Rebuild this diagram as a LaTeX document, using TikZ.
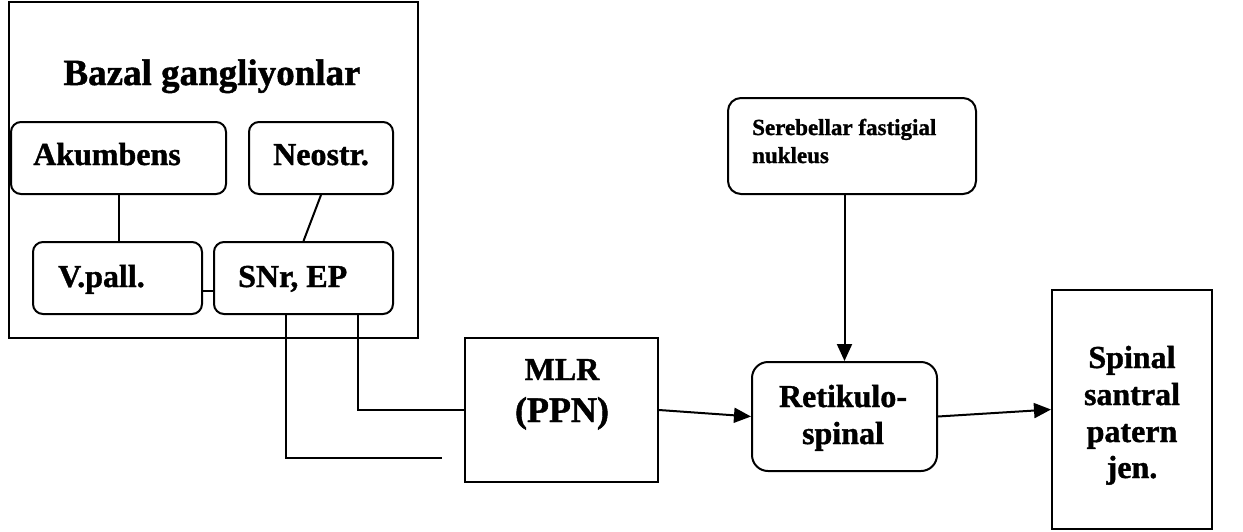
\documentclass[tikz,border=0pt]{standalone}
\usepackage{fontspec}
\setmainfont{Liberation Serif}[BoldFeatures={FakeBold=1.2}]
\usetikzlibrary{arrows.meta}
\begin{document}
\begin{tikzpicture}[x=1pt,y=-1pt,
  ln/.style={line width=2pt},
  sq/.style={draw,ln,rectangle,inner sep=0pt},
  rbox/.style={draw,ln,rectangle,rounded corners=10pt,inner sep=0pt},
  txt/.style={inner sep=0pt,font=\bfseries\fontsize{32}{37}\selectfont},
  arr/.style={ln,-{Triangle[length=17pt,width=15pt]}}]
\useasboundingbox (0,0) rectangle (1243,531);
% boxes
\node[sq,minimum width=409pt,minimum height=336pt] (baz) at (213.5,170) {};
\node[txt,anchor=base,font=\bfseries\fontsize{37}{40}\selectfont] (bazT) at (212,85) {Bazal gangliyonlar};
\node[rbox,minimum width=215pt,minimum height=72pt] (akb) at (118.5,158) {};
\node[txt,anchor=base west] (akbT) at (33,165) {Akumbens};
\node[rbox,minimum width=144pt,minimum height=72pt] (neo) at (321,158) {};
\node[txt,anchor=base west] (neoT) at (273,165) {Neostr.};
\node[rbox,minimum width=169pt,minimum height=72pt] (vp) at (117.5,278) {};
\node[txt,anchor=base west] (vpT) at (58,287) {V.pall.};
\node[rbox,minimum width=179pt,minimum height=72pt] (snr) at (303.5,278) {};
\node[txt,anchor=base west] (snrT) at (238,287) {SNr, EP};
\node[sq,minimum width=193pt,minimum height=144pt] (mlr) at (561.5,410) {};
\node[txt,anchor=base] (mlrT) at (562,380) {MLR};
\node[txt,anchor=base,font=\bfseries\fontsize{36}{40}\selectfont] (ppnT) at (562,422) {(PPN)};
\node[rbox,rounded corners=13pt,minimum width=248pt,minimum height=96pt] (ser) at (852,146) {};
\node[txt,anchor=base west,font=\bfseries\fontsize{23}{28}\selectfont] (serT) at (752,135) {Serebellar fastigial};
\node[txt,anchor=base west,font=\bfseries\fontsize{23}{28}\selectfont] (serT2) at (752,163) {nukleus};
\node[rbox,rounded corners=16pt,minimum width=185pt,minimum height=109pt] (ret) at (844.5,416.5) {};
\node[txt,anchor=base] (retT) at (843,407) {Retikulo-};
\node[txt,anchor=base] (retT2) at (843,444) {spinal};
\node[sq,minimum width=160pt,minimum height=239pt] (spn) at (1132,409.5) {};
\node[txt,anchor=base] (spnT1) at (1132,368) {Spinal};
\node[txt,anchor=base] (spnT2) at (1132,405) {santral};
\node[txt,anchor=base] (spnT3) at (1132,442) {patern};
\node[txt,anchor=base] (spnT4) at (1132,478) {jen.};
\coordinate (free) at (442,458);
% connectors
\draw[ln] (akb.south) -- (akb.south |- vp.north);
\draw[ln] (neo.south) -- (snr.north);
\draw[ln] (vp.east |- 0,291) -- (snr.west |- 0,291);
\draw[ln] ([xshift=54.5pt]snr.south) |- (mlr.west);
\draw[ln] ([xshift=-17.5pt]snr.south) |- (free);
\draw[arr] (mlr.east) -- (ret.west);
\draw[arr] (ser.south -| ret.north) -- (ret.north);
\draw[arr] (ret.east) -- (spn.west);
\end{tikzpicture}
\end{document}
